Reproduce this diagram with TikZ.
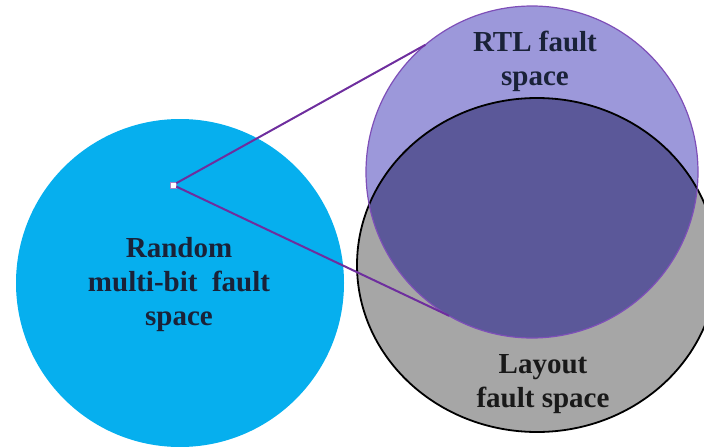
\documentclass[tikz,border=0pt]{standalone}
\usepackage{fontspec}
\setmainfont{Liberation Serif}
\usetikzlibrary{shapes.geometric}

\definecolor{figblue}{HTML}{06AFEE}
\definecolor{figviolet}{HTML}{9C98DA}
\definecolor{figvioletdark}{HTML}{5B5899}
\definecolor{figvioletedge}{HTML}{7E4FB8}
\definecolor{figgray}{HTML}{A6A6A6}
\definecolor{figline}{HTML}{6E2E9E}
\definecolor{fignavy}{HTML}{1A2238}

\begin{document}
\begin{tikzpicture}[
  x=1pt, y=-1pt,
  space/.style={ellipse, inner sep=0pt, outer sep=0pt},
  lbl/.style={font=\fontsize{29}{34}\selectfont\bfseries, align=center,
              inner sep=0pt, text=fignavy},
  zoomline/.style={figline, line width=2pt},
  probe/.style={rectangle, minimum size=6pt, inner sep=0pt, fill=white,
                draw=figline!60, line width=0.8pt}]

  \clip (0,0) rectangle (704,447);

  \def\rx{180pt}  % layout ellipse radii
  \def\ry{167pt}
  \def\rr{166pt}  % rtl circle radius

  % ---- fault spaces -----------------------------------------------------
  \node[space, minimum size=328pt, fill=figblue] (random) at (180,283) {};
  \node[space, minimum width=360pt, minimum height=334pt, fill=figgray]
    (layout) at (537,265) {};
  \node[space, minimum size=332pt, fill=figviolet] (rtl) at (532,172) {};

  \begin{scope}
    \clip (layout.center) ellipse [x radius=\rx, y radius=\ry];
    \fill[figvioletdark] (rtl.center) circle [radius=\rr];
  \end{scope}
  \draw[black, line width=1.8pt] (layout.center) ellipse [x radius=\rx, y radius=\ry];
  \draw[figvioletedge, line width=1.2pt] (rtl.center) circle [radius=\rr];

  % ---- zoom onto one fault ----------------------------------------------
  \node[probe] (fault) at (173,185) {};
  \draw[zoomline] (fault) -- (rtl.130);
  \draw[zoomline] (fault) -- (rtl.240);

  % ---- labels -----------------------------------------------------------
  \node[lbl] (randomlbl) at (179,285) {Random\\multi-bit\ \ fault\\space};
  \node[lbl] (rtllbl) at (535,61) {RTL fault\\space};
  \node[lbl, text=black!90] (layoutlbl) at (543,384) {Layout\\fault space};
\end{tikzpicture}
\end{document}
